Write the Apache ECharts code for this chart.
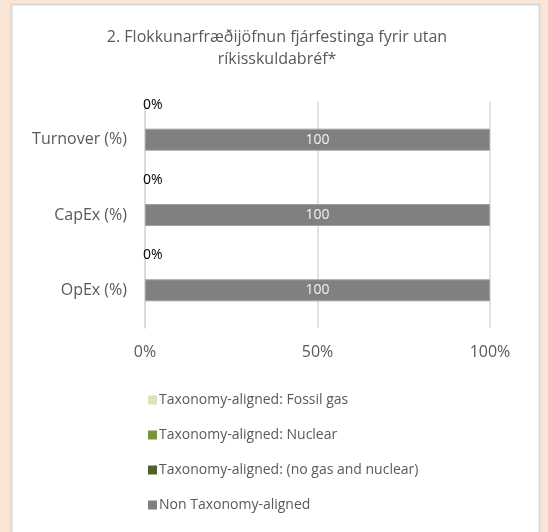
<!DOCTYPE html>
<html>
<head>
<meta charset="utf-8">
<script src="https://cdn.jsdelivr.net/npm/echarts@6/dist/echarts.min.js"></script>
<style>
  html, body { margin: 0; padding: 0; background: #fbe5d6; }
  #chart { width: 548px; height: 532px; }
</style>
</head>
<body>
<div id="chart"></div>
<script>

var categories = ['Turnover (%)', 'CapEx (%)', 'OpEx (%)'];
var fossil_gas = [0, 0, 0];
var nuclear = [0, 0, 0];
var aligned_other = [0, 0, 0];
var non_aligned = [100, 100, 100];
var x_ticks = [0, 50, 100];

var FONT = '"Open Sans", sans-serif';
var TEXT = '#595959';

var chart = echarts.init(document.getElementById('chart'));

var option = {
    backgroundColor: '#fbe5d6',
    animation: false,
    graphic: [{
        type: 'rect',
        shape: { x: 11.5, y: 4.5, width: 528, height: 540 },
        style: { fill: '#ffffff', stroke: '#d9d9d9', lineWidth: 2 },
        z: -10
    }],
    title: {
        text: '2. Flokkunarfræðijöfnun fjárfestinga fyrir utan\nríkisskuldabréf*',
        left: 272,
        textAlign: 'center',
        top: 21,
        textStyle: {
            fontFamily: FONT,
            fontSize: 16,
            fontWeight: 'normal',
            color: TEXT,
            lineHeight: 22
        }
    },
    legend: {
        orient: 'vertical',
        left: 143,
        top: 388,
        itemWidth: 9,
        itemHeight: 9,
        itemGap: 21,
        icon: 'rect',
        itemStyle: { borderWidth: 0 },
        textStyle: { fontFamily: FONT, fontSize: 14, color: TEXT, padding: [0, 0, 0, -3] },
        data: ['Taxonomy-aligned: Fossil gas', 'Taxonomy-aligned: Nuclear',
               'Taxonomy-aligned: (no gas and nuclear)', 'Non Taxonomy-aligned']
    },
    grid: { left: 145, right: 58, top: 102, bottom: 204, containLabel: false },
    xAxis: {
        type: 'value',
        min: x_ticks[0],
        max: x_ticks[x_ticks.length - 1],
        interval: x_ticks[1] - x_ticks[0],
        axisLine: { show: false },
        axisTick: { show: false },
        splitLine: { lineStyle: { color: '#d9d9d9', width: 1.5 } },
        axisLabel: {
            formatter: '{value}%',
            fontFamily: FONT,
            fontSize: 16,
            color: TEXT,
            margin: 16
        }
    },
    yAxis: {
        type: 'category',
        inverse: true,
        data: categories,
        axisLine: { lineStyle: { color: '#d9d9d9', width: 1.5 } },
        axisTick: { length: 4, lineStyle: { color: '#d9d9d9', width: 1.5 } },
        axisLabel: { fontFamily: FONT, fontSize: 16, color: TEXT, margin: 18 }
    },
    series: [
        {
            name: 'Taxonomy-aligned: Fossil gas',
            type: 'bar',
            stack: 'all',
            barWidth: 22,
            itemStyle: { color: '#d8e4bc' },
            data: fossil_gas
        },
        {
            name: 'Taxonomy-aligned: Nuclear',
            type: 'bar',
            stack: 'all',
            itemStyle: { color: '#77933c' },
            data: nuclear
        },
        {
            name: 'Taxonomy-aligned: (no gas and nuclear)',
            type: 'bar',
            stack: 'all',
            itemStyle: { color: '#4f6228' },
            label: {
                show: true,
                position: 'right',
                distance: -2,
                offset: [0, -35],
                formatter: '{c}%',
                fontFamily: FONT,
                fontSize: 14,
                color: '#000000'
            },
            data: aligned_other
        },
        {
            name: 'Non Taxonomy-aligned',
            type: 'bar',
            stack: 'all',
            itemStyle: { color: '#808080', borderColor: '#a0a0a0', borderWidth: 1 },
            label: {
                show: true,
                position: 'inside',
                fontFamily: FONT,
                fontSize: 14,
                color: '#f2f2f2'
            },
            data: non_aligned
        }
    ]
};

chart.setOption(option);

</script>
</body>
</html>
